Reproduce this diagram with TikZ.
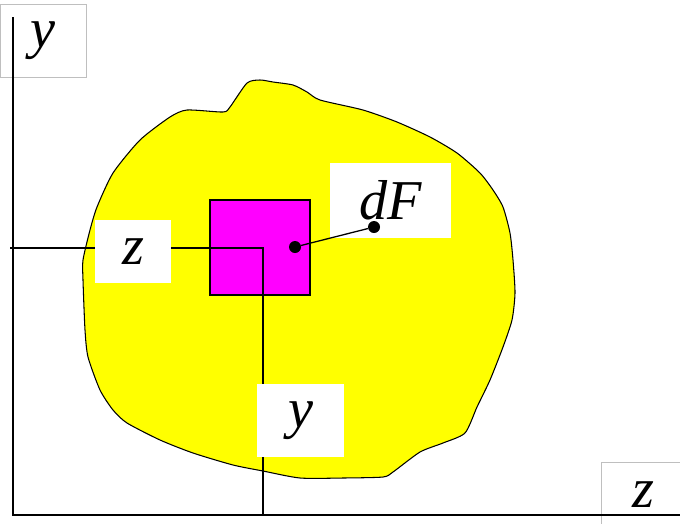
\documentclass[tikz,border=0pt]{standalone}
\usepackage{fontspec}
\setmainfont{Liberation Serif}
\definecolor{secyellow}{RGB}{255,255,0}
\definecolor{elemmagenta}{RGB}{255,0,255}
\begin{document}
\begin{tikzpicture}[
    x=0.03cm, y=-0.03cm,
    lbl/.style={fill=white, inner sep=0pt, font=\fontsize{48}{56}\selectfont\itshape},
    axlbl/.style={lbl, draw=black!25, line width=0.5pt},
    dot/.style={circle, fill=black, inner sep=0pt, minimum size=0.36cm},
  ]
    \useasboundingbox (0,0) rectangle (680,523);

    % section
    \draw[fill=secyellow, line width=0.9pt, line join=round]
      plot[smooth cycle, tension=0.4] coordinates {
        (83,280) (85,330) (88,357) (100,390) (113,410) (127,423) (160,440)
        (193,453) (233,465) (263,471) (300,478) (343,478) (383,477) (393,472)
        (420,452) (443,443) (465,433) (477,407) (490,380) (503,347) (512,320)
        (515,293) (513,260) (510,233) (503,207) (493,190) (480,173) (457,153)
        (430,137) (397,122) (363,110) (320,100) (307,92) (293,85) (273,82)
        (260,80) (247,83) (230,107) (223,112) (187,110) (170,117) (140,140)
        (113,173) (97,207) (90,230) (83,260)};

    % element dF
    \draw[fill=elemmagenta, line width=0.9pt] (210,200) rectangle (310,295);

    % axes
    \node[axlbl, minimum width=2.58cm, minimum height=2.19cm] (ylab) at (43,40.5) {y};
    \node[axlbl, minimum width=2.55cm, minimum height=1.98cm] (zlab) at (643.5,495) {z};
    \coordinate (ytop) at (13,17);
    \coordinate (origin) at (13,515);
    \coordinate (zend) at (680,515);
    \draw[line width=1.3pt] (ytop) -- (origin) -- (zend);

    % coordinates of the element
    \coordinate (p) at (263,248);
    \coordinate (pz) at (10,248);
    \coordinate (py) at (263,515);
    \draw[line width=1.1pt] (pz) -- (p) -- (py);
    \node[lbl, minimum width=2.28cm, minimum height=1.89cm] (zcoord) at (133,251.5) {z};
    \node[lbl, minimum width=2.61cm, minimum height=2.19cm] (ycoord) at (300.5,420.5) {y};

    % dF
    \node[lbl, minimum width=3.63cm, minimum height=2.25cm] (dFlab) at (390.5,200.5) {dF};
    \node[dot] (c) at (295,247) {};
    \node[dot] (f) at (374,227) {};
    \draw[line width=1.1pt] (c) -- (f);
  \end{tikzpicture}
\end{document}
